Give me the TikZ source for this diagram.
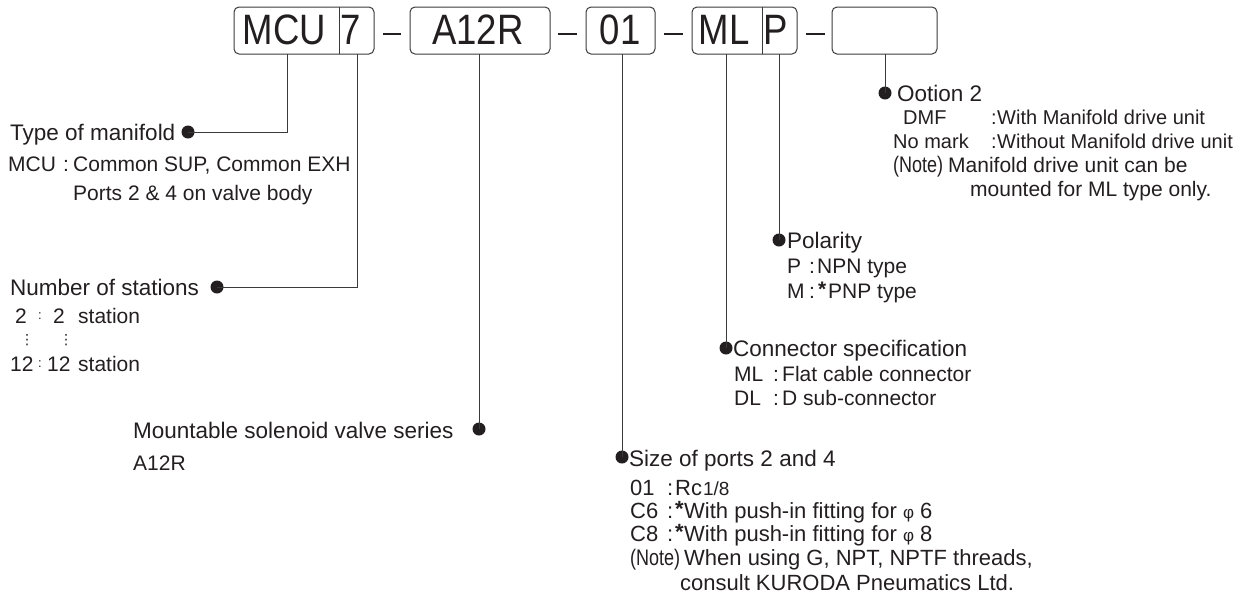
\documentclass[tikz,border=0pt]{standalone}
\usepackage{fontspec}
\setmainfont{Liberation Sans}
\newfontfamily\bxfamily[FakeStretch=0.86]{Liberation Sans}
\newfontfamily\cnfamily[FakeStretch=0.8]{Liberation Sans}
\newfontfamily\dvfamily{DejaVu Sans}
\newcommand\hdfont{\fontsize{22.5}{26}\selectfont}
\newcommand\dtfont{\fontsize{21}{25}\selectfont}
\newcommand\dtbfont{\fontsize{22}{26}\selectfont}
\newcommand\dtcfont{\fontsize{20}{24}\selectfont}
\newcommand\bxfont{\bxfamily\fontsize{42.5}{46}\selectfont}
\definecolor{ink}{HTML}{231F20}
\definecolor{ln}{HTML}{3A3A3A}
\begin{document}
\begin{tikzpicture}[x=1pt,y=-1pt,
  box/.style={draw=ln,line width=1pt,rounded corners=5pt,inner sep=0pt,minimum height=47pt},
  bx/.style={inner sep=0pt,anchor=center,font=\bxfont,text=ink},
  hd/.style={inner sep=0pt,anchor=base west,font=\hdfont,text=ink},
  dt/.style={inner sep=0pt,anchor=base west,font=\dtfont,text=ink},
  dtb/.style={dt,font=\dtbfont},
  dtc/.style={dt,font=\dtcfont},
  notefont/.style={dt,font=\cnfamily\fontsize{22.5}{26}\selectfont},
  smcolon/.style={inner sep=0pt,anchor=center,font=\fontsize{13}{15}\selectfont,text=ink},
  vd/.style={inner sep=0pt,anchor=center,font=\dvfamily\fontsize{14}{16}\selectfont,text=ink},
  dot/.style={circle,fill=ink,inner sep=0pt,minimum size=13pt},
  conn/.style={draw=ln,line width=1pt},
  hyph/.style={draw=ink,line width=1.3pt}]
\useasboundingbox (0,0) rectangle (1245,603);

% code boxes
\node[box,minimum width=140pt] (b1) at (304,30.5) {};
\node[box,minimum width=140pt] (b2) at (480,30.5) {};
\node[box,minimum width=69pt] (b3) at (620.5,30.5) {};
\node[box,minimum width=105pt] (b4) at (744.5,30.5) {};
\node[box,minimum width=105pt] (b5) at (884.5,30.5) {};
\draw[conn] (339,7) -- (339,54);
\draw[conn] (762,7) -- (762,54);
\node[bx] (tMCU) at (284.5,30) {MCU};
\node[bx] (t7) at (351,30) {7};
\node[bx] (tA) at (478,30) {A12R};
\node[bx] (t01) at (620,30) {01};
\node[bx] (tML) at (724,30) {ML};
\node[bx] (tP) at (775.5,30) {P};
\draw[hyph] (383,34) -- (401,34);
\draw[hyph] (558,34) -- (577,34);
\draw[hyph] (664,34) -- (683,34);
\draw[hyph] (806,34) -- (825,34);

% dots
\node[dot] (d1) at (188,132) {};
\node[dot] (d2) at (217,287) {};
\node[dot] (d3) at (479,429) {};
\node[dot] (d4) at (622,457) {};
\node[dot] (d5) at (726,348) {};
\node[dot] (d6) at (779,240) {};
\node[dot] (d7) at (885,93) {};

% connector ends
\coordinate (e1) at (287,54);
\coordinate (e2) at (357,54);
\coordinate (e3) at (479,54);
\coordinate (e4) at (622,54);
\coordinate (e5) at (726,54);
\coordinate (e6) at (779,54);
\coordinate (e7) at (885,54);
\draw[conn] (d1.center) -| (e1);
\draw[conn] (d2.center) -| (e2);
\draw[conn] (d3.center) -- (e3);
\draw[conn] (d4.center) -- (e4);
\draw[conn] (d5.center) -- (e5);
\draw[conn] (d6.center) -- (e6);
\draw[conn] (d7.center) -- (e7);

% Type of manifold
\node[hd] (h1) at (10,140) {Type of manifold};
\node[dt] (m1a) at (8,171) {MCU};
\node[dt] (m1b) at (63,171) {:};
\node[dt] (m1c) at (73,171) {Common SUP, Common EXH};
\node[dt] (m2) at (73,200) {Ports 2 \& 4 on valve body};

% Number of stations
\node[hd] (h2) at (10,295) {Number of stations};
\node[dt] (s1a) at (15,323) {2};
\node[smcolon] (s1b) at (40,316) {:};
\node[dt] (s1c) at (53,323) {2};
\node[dt] (s1d) at (78,323) {station};
\node[vd] (v1) at (27,340) {⋮};
\node[vd] (v2) at (66,340) {⋮};
\node[dt] (s2a) at (10,371) {12};
\node[smcolon] (s2b) at (40,364) {:};
\node[dt] (s2c) at (47,371) {12};
\node[dt] (s2d) at (78,371) {station};

% Mountable solenoid valve series
\node[hd] (h3) at (133,438) {Mountable solenoid valve series};
\node[dt] (a1) at (133,470) {A12R};

% Size of ports
\node[hd] (h4) at (629,466) {Size of ports 2 and 4};
\node[dtb] (p1a) at (630,495) {01};
\node[dtb] (p1b) at (667,495) {:};
\node[dtb] (p1c) at (675,495) {Rc\kern1pt{\fontsize{19}{22}\selectfont 1/8}};
\node[dtb] (p2a) at (630,518) {C6};
\node[dtb] (p2b) at (667,518) {:};
\node[dtb] (p2s) at (675,516) {\textbf{*}};
\node[dtb] (p2c) at (684,518) {With push-in fitting for {\fontsize{17}{20}\selectfont φ} 6};
\node[dtb] (p3a) at (630,541) {C8};
\node[dtb] (p3b) at (667,541) {:};
\node[dtb] (p3s) at (675,539) {\textbf{*}};
\node[dtb] (p3c) at (684,541) {With push-in fitting for {\fontsize{17}{20}\selectfont φ} 8};
\node[notefont] (p4a) at (630,565) {(Note)};
\node[dtb] (p4b) at (684,565) {When using G, NPT, NPTF threads,};
\node[dtb] (p5) at (680,590) {consult KURODA Pneumatics Ltd.};

% Connector specification
\node[hd] (h5) at (733,356) {Connector specification};
\node[dt] (c1a) at (734,381) {ML};
\node[dt] (c1b) at (773,381) {:};
\node[dt] (c1c) at (782,381) {Flat cable connector};
\node[dt] (c2a) at (734,405) {DL};
\node[dt] (c2b) at (773,405) {:};
\node[dt] (c2c) at (782,405) {D sub-connector};

% Polarity
\node[hd] (h6) at (787,248) {Polarity};
\node[dt] (o1a) at (787,273) {P};
\node[dt] (o1b) at (809,273) {:};
\node[dt] (o1c) at (817,273) {NPN type};
\node[dt] (o2a) at (787,298) {M};
\node[dt] (o2b) at (809,298) {:};
\node[dt] (o2s) at (818,296) {\textbf{*}};
\node[dt] (o2c) at (828,298) {PNP type};

% Option 2
\node[hd] (h7) at (897,101) {Ootion 2};
\node[dtc] (q1a) at (903,124) {DMF};
\node[dtc] (q1b) at (991,124) {:};
\node[dtc] (q1c) at (997,124) {With Manifold drive unit};
\node[dtc] (q2a) at (893,148) {No mark};
\node[dtc] (q2b) at (991,148) {:};
\node[dtc] (q2c) at (997,148) {Without Manifold drive unit};
\node[notefont] (q3a) at (893,172) {(Note)};
\node[dtc,font=\fontsize{21}{25}\selectfont] (q3b) at (948,172) {Manifold drive unit can be};
\node[dtc,font=\fontsize{21}{25}\selectfont] (q4) at (970,196) {mounted for ML type only.};
\end{tikzpicture}
\end{document}
